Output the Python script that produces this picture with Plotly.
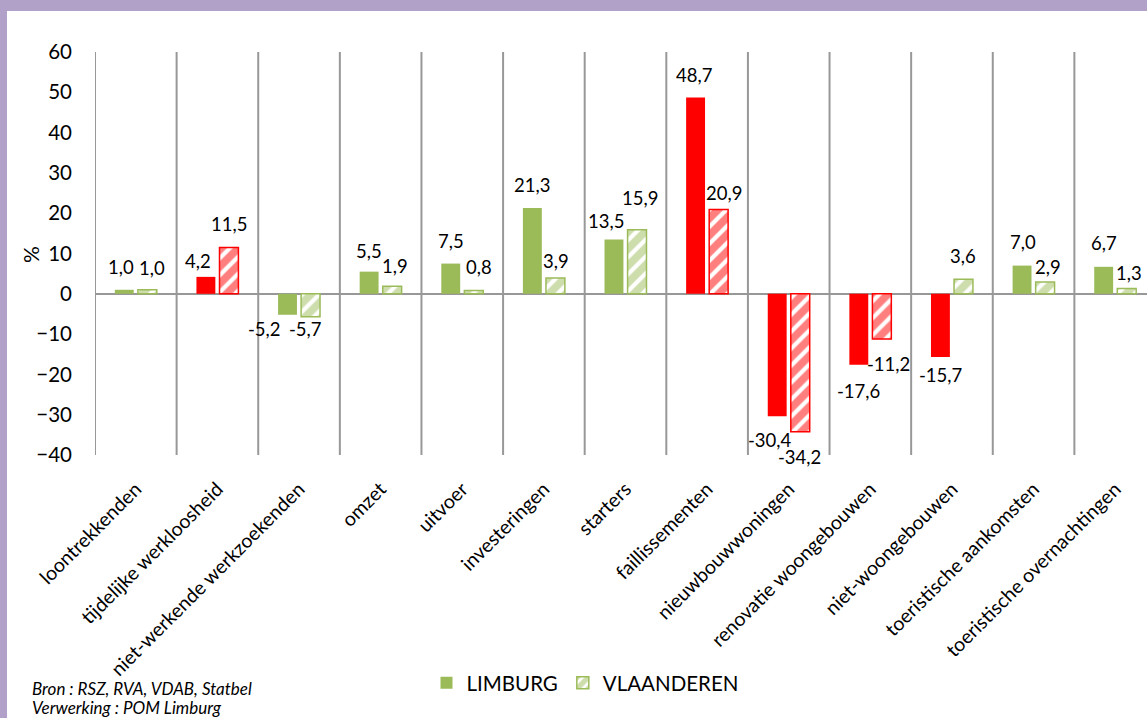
import plotly.graph_objects as go

categories = ["loontrekkenden", "tijdelijke werkloosheid", "niet-werkende werkzoekenden",
              "omzet", "uitvoer", "investeringen", "starters", "faillissementen",
              "nieuwbouwwoningen", "renovatie woongebouwen", "niet-woongebouwen",
              "toeristische aankomsten", "toeristische overnachtingen"]
limburg = [1.0, 4.2, -5.2, 5.5, 7.5, 21.3, 13.5, 48.7, -30.4, -17.6, -15.7, 7.0, 6.7]
vlaanderen = [1.0, 11.5, -5.7, 1.9, 0.8, 3.9, 15.9, 20.9, -34.2, -11.2, 3.6, 2.9, 1.3]
# 1 = unfavourable evolution (red), 0 = favourable (green)
limburg_bad = [0, 1, 0, 0, 0, 0, 0, 1, 1, 1, 1, 0, 0]
vlaanderen_bad = [0, 1, 0, 0, 0, 0, 0, 1, 1, 1, 0, 0, 0]
y_ticks = [-40, -30, -20, -10, 0, 10, 20, 30, 40, 50, 60]

# data-label nudges in pixels (horizontal shift, distance of label centre beyond bar end)
lim_label_dx = [-3, -8, -23, 0, 0, 0, -8, -2, -7, 0, 0, 1, 0]
lim_label_d = [23, 16, 14, 21, 23, 23, 18, 23, 24, 26, 18, 24, 24]
vla_label_dx = [5, 0, -5, 3, 5, 1, 3, 5, -1, 7, 0, 3, 2]
vla_label_d = [22, 23, 12, 20, 24, 17, 32, 17, 25, 25, 23, 15, 16]

GREEN = "#9BBB59"
RED = "#FF0000"
FONT = "Lato"
W, H = 1147, 718
L, R, T, B = 95, 0, 52, 263
BARGAP, GROUPGAP = 0.435, 0.18

idx = list(range(len(categories)))
col_l = [RED if b else GREEN for b in limburg_bad]
col_v = [RED if b else GREEN for b in vlaanderen_bad]

fig = go.Figure()
fig.add_trace(go.Bar(
    x=idx, y=limburg, name="LIMBURG",
    marker=dict(color=col_l, line=dict(width=0)),
))
fig.add_trace(go.Bar(
    x=idx, y=vlaanderen, name="VLAANDEREN",
    marker=dict(color="white", line=dict(color=col_v, width=1.5),
                pattern=dict(shape="/", fgcolor=col_v, bgcolor="white",
                             size=12, solidity=0.65, fillmode="overlay")),
))

shapes = []
for i in range(len(categories) + 1):
    shapes.append(dict(type="line", xref="x", yref="y", x0=i - 0.5, x1=i - 0.5,
                       y0=y_ticks[0], y1=y_ticks[-1],
                       line=dict(color="#989898", width=2), layer="below"))

plot_w = W - L - R
plot_h = H - T - B
def px_x(p):
    return (p - L) / plot_w
def px_y(p):
    return (H - B - p) / plot_h

PURPLE = "#B1A0C7"
shapes.append(dict(type="rect", xref="paper", yref="paper", x0=px_x(0), x1=px_x(W),
                   y0=px_y(11), y1=px_y(0), fillcolor=PURPLE, line=dict(width=0)))
shapes.append(dict(type="rect", xref="paper", yref="paper", x0=px_x(0), x1=px_x(7),
                   y0=px_y(H), y1=px_y(0), fillcolor=PURPLE, line=dict(width=0)))

annotations = [
    dict(text="%", xref="paper", yref="paper", x=px_x(30), y=px_y(255),
         xanchor="center", yanchor="middle",
         showarrow=False, textangle=-90, font=dict(family=FONT, size=21, color="black")),
    dict(text="<i>Bron : RSZ, RVA, VDAB, Statbel</i>", xref="paper", yref="paper",
         x=px_x(30), y=px_y(688), xanchor="left", yanchor="middle", showarrow=False,
         font=dict(family=FONT, size=17, color="black")),
    dict(text="<i>Verwerking : POM Limburg</i>", xref="paper", yref="paper",
         x=px_x(30), y=px_y(707), xanchor="left", yanchor="middle", showarrow=False,
         font=dict(family=FONT, size=17, color="black")),
]

# data labels anchored at bar ends (bar centres follow the grouped-bar geometry)
slot = (1 - BARGAP) / 2
def fmt(v):
    return f"{v:.1f}".replace(".", ",")
for series, dxs, ds, off in ((limburg, lim_label_dx, lim_label_d, -slot / 2),
                             (vlaanderen, vla_label_dx, vla_label_d, slot / 2)):
    for i, v in enumerate(series):
        sign = 1 if v >= 0 else -1
        annotations.append(dict(
            text=fmt(v), x=i + off, y=v, xref="x", yref="y",
            xanchor="center", yanchor="middle", showarrow=False,
            xshift=dxs[i], yshift=sign * ds[i],
            font=dict(family=FONT, size=18.5, color="black")))

fig.update_layout(
    width=W, height=H,
    margin=dict(l=L, r=R, t=T, b=B, pad=0),
    paper_bgcolor="white", plot_bgcolor="white",
    barmode="group", bargap=BARGAP, bargroupgap=GROUPGAP,
    separators=",.",
    font=dict(family=FONT, color="black"),
    showlegend=True,
    legend=dict(orientation="h", x=px_x(585), y=px_y(683), xanchor="center", yanchor="middle",
                font=dict(family=FONT, size=20.5, color="black"), itemwidth=30),
    shapes=shapes, annotations=annotations,
    xaxis=dict(range=[-0.5, (W - L) / ((W - L + 9) / 13) - 0.5], tickvals=idx, ticktext=categories,
               tickangle=-45, showgrid=False, zeroline=False, showline=False, ticks="",
               ticklabelstandoff=18,
               tickfont=dict(family=FONT, size=19.5, color="black")),
    yaxis=dict(range=[y_ticks[0], y_ticks[-1]], tickvals=y_ticks, showgrid=False,
               zeroline=True, zerolinecolor="#989898", zerolinewidth=2, showline=False,
               ticks="", ticklabelstandoff=22,
               tickfont=dict(family=FONT, size=20.5, color="black")),
)

fig.write_html("out.html", config={"displayModeBar": False},
               post_script="document.body.style.margin='0';")
